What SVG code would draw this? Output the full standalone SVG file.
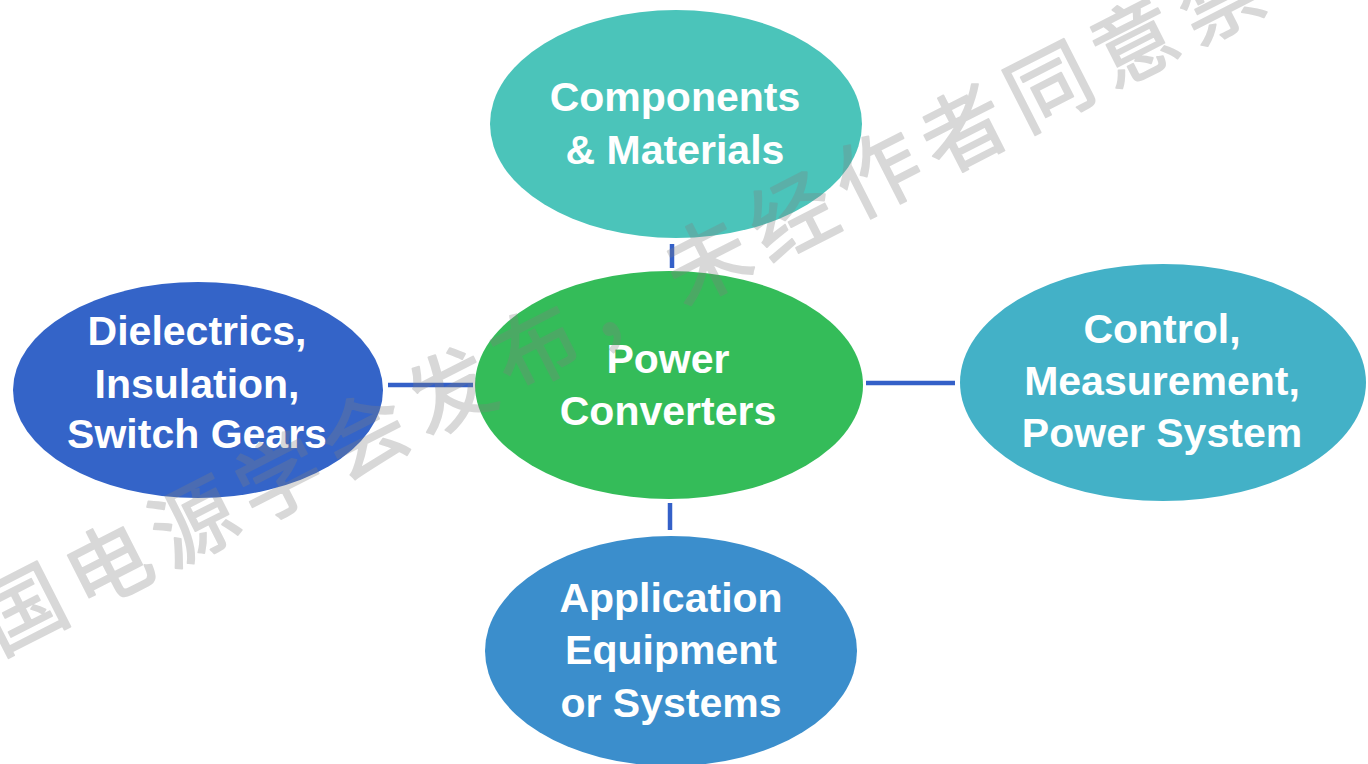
<svg xmlns="http://www.w3.org/2000/svg" width="1368" height="764" viewBox="0 0 1368 764">
  <style>
    .lbl { font-family: "Liberation Sans", Arial, sans-serif; font-weight: bold; font-size: 41px; fill: #FFFFFF; text-anchor: middle; }
    .conn { stroke: #3460C8; stroke-width: 4.5; fill: none; }
    .wm { font-family: "Noto Sans CJK SC", "Noto Sans", sans-serif; font-size: 84px; letter-spacing: 12px; fill: #808080; stroke: #808080; stroke-width: 1.8; stroke-linejoin: round; }
  </style>
  <rect x="0" y="0" width="1368" height="764" fill="#FFFFFF"/>
  <g id="connectors">
    <line class="conn" x1="672" y1="244" x2="672" y2="268"/>
    <line class="conn" x1="388" y1="385" x2="473" y2="385"/>
    <line class="conn" x1="866" y1="383" x2="955" y2="383"/>
    <line class="conn" x1="670" y1="503" x2="670" y2="530"/>
  </g>
  <g id="node-components">
    <ellipse cx="676" cy="124" rx="186" ry="114" fill="#4BC4BA"/>
    <text class="lbl" x="675" y="111">Components</text>
    <text class="lbl" x="675" y="164">&amp; Materials</text>
  </g>
  <g id="node-power-converters">
    <ellipse cx="669" cy="385" rx="194" ry="114" fill="#34BC59"/>
    <text class="lbl" x="668" y="373">Power</text>
    <text class="lbl" x="668" y="425">Converters</text>
  </g>
  <g id="node-dielectrics">
    <ellipse cx="198" cy="390" rx="185" ry="108" fill="#3464C8"/>
    <text class="lbl" x="197" y="345">Dielectrics,</text>
    <text class="lbl" x="197" y="398">Insulation,</text>
    <text class="lbl" x="197" y="448">Switch Gears</text>
  </g>
  <g id="node-control">
    <ellipse cx="1163" cy="382.5" rx="203" ry="118.5" fill="#43B1C7"/>
    <text class="lbl" x="1162" y="343">Control,</text>
    <text class="lbl" x="1162" y="395">Measurement,</text>
    <text class="lbl" x="1162" y="447">Power System</text>
  </g>
  <g id="node-application">
    <ellipse cx="671" cy="651" rx="186" ry="115" fill="#3B8ECC"/>
    <text class="lbl" x="671" y="612">Application</text>
    <text class="lbl" x="671" y="664">Equipment</text>
    <text class="lbl" x="671" y="717">or Systems</text>
  </g>
  <g id="watermark" opacity="0.3" transform="translate(22,608) rotate(-27)">
    <text class="wm" x="-42" y="32">国电源学会发布，未经作者同意禁</text>
  </g>
</svg>
